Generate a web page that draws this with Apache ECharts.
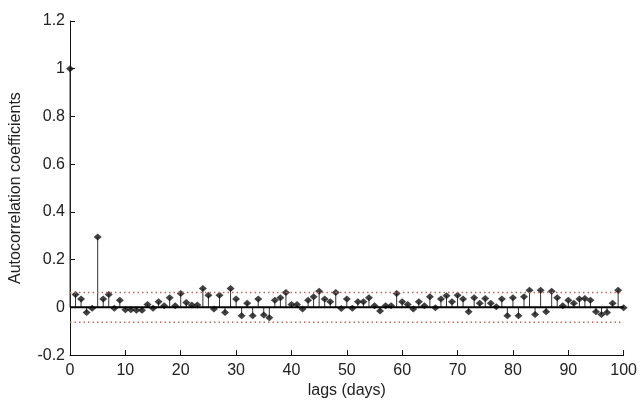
<!DOCTYPE html>
<html>
<head>
<meta charset="utf-8">
<script src="https://cdn.jsdelivr.net/npm/echarts@6/dist/echarts.min.js"></script>
<style>
    html, body { margin: 0; padding: 0; background: #fff; }
    #chart { width: 640px; height: 404px; }
</style>
</head>
<body>
<div id="chart"></div>
<script>
// autocorrelation at lag 0..100 (index = lag in days)
const acf = [
    1,
    0.054, 0.035, -0.021, -0.004, 0.295, 0.035, 0.054, -0.004, 0.03, -0.01,
    -0.01, -0.012, -0.012, 0.012, -0.004, 0.024, 0.007, 0.04, 0.007, 0.058,
    0.02, 0.01, 0.01, 0.079, 0.051, -0.007, 0.051, -0.022, 0.079, 0.035,
    -0.035, 0.017, -0.035, 0.035, -0.032, -0.043, 0.03, 0.04, 0.062, 0.012,
    0.012, -0.007, 0.03, 0.044, 0.068, 0.035, 0.024, 0.062, -0.005, 0.035,
    -0.004, 0.024, 0.024, 0.04, 0.007, -0.015, 0.007, 0.007, 0.058, 0.024,
    0.012, -0.007, 0.024, 0.007, 0.044, -0.002, 0.035, 0.049, 0.024, 0.051,
    0.035, -0.018, 0.04, 0.017, 0.037, 0.017, 0.003, 0.035, -0.035, 0.04,
    -0.035, 0.044, 0.072, -0.03, 0.072, -0.018, 0.068, 0.04, 0.007, 0.03,
    0.017, 0.035, 0.037, 0.03, -0.018, -0.03, -0.022, 0.017, 0.072, -0.002
];
const lagRange = [0, 100];
const confBound = 0.062;

const points = acf.map((v, i) => [i, v]);
const font = 'Liberation Sans, Arial, sans-serif';

let chart = echarts.init(document.getElementById('chart'), null, {renderer: 'canvas'});

let option = {
    animation: false,
    grid: { left: 69, right: 12, top: 21, bottom: 47 },
    xAxis: {
        type: 'value',
        min: lagRange[0],
        max: lagRange[1],
        interval: 10,
        name: 'lags (days)',
        nameLocation: 'middle',
        nameGap: 27,
        nameTextStyle: { fontFamily: font, fontSize: 16, color: '#222' },
        axisLine: { onZero: false, lineStyle: { color: '#111', width: 1 } },
        axisTick: { inside: true, length: 5, lineStyle: { color: '#111' } },
        axisLabel: { fontFamily: font, fontSize: 16, color: '#222', margin: 7 },
        splitLine: { show: false }
    },
    yAxis: {
        type: 'value',
        min: -0.2,
        max: 1.2,
        interval: 0.2,
        name: 'Autocorrelation coefficients',
        nameLocation: 'middle',
        nameGap: 46,
        nameTextStyle: { fontFamily: font, fontSize: 16, color: '#222' },
        axisLine: { show: true, onZero: false, lineStyle: { color: '#111', width: 1 } },
        axisTick: { show: true, inside: true, length: 5, lineStyle: { color: '#111' } },
        axisLabel: {
            fontFamily: font, fontSize: 16, color: '#222', margin: 5,
            formatter: v => String(Math.round(v * 10) / 10)
        },
        splitLine: { show: false }
    },
    series: [
        {
            type: 'line',
            data: [[lagRange[0], confBound], [lagRange[1], confBound]],
            symbol: 'none',
            lineStyle: { color: '#c06a5a', width: 1.5, type: [1.5, 3] },
            silent: true
        },
        {
            type: 'line',
            data: [[lagRange[0], -confBound], [lagRange[1], -confBound]],
            symbol: 'none',
            lineStyle: { color: '#c06a5a', width: 1.5, type: [1.5, 3] },
            silent: true
        },
        {
            type: 'line',
            data: [[lagRange[0], 0], [lagRange[1], 0]],
            symbol: 'none',
            lineStyle: { color: '#000', width: 2 },
            silent: true
        },
        {
            type: 'custom',
            data: points,
            renderItem: (params, api) => {
                let p0 = api.coord([api.value(0), 0]);
                let p1 = api.coord([api.value(0), api.value(1)]);
                return {
                    type: 'line',
                    shape: { x1: p0[0], y1: p0[1], x2: p1[0], y2: p1[1] },
                    style: { stroke: '#333', lineWidth: 1 }
                };
            },
            silent: true
        },
        {
            type: 'scatter',
            data: points,
            symbol: 'diamond',
            symbolSize: [8, 7],
            itemStyle: { color: '#111' },
            silent: true
        }
    ]
};

option && chart.setOption(option);
</script>
</body>
</html>
